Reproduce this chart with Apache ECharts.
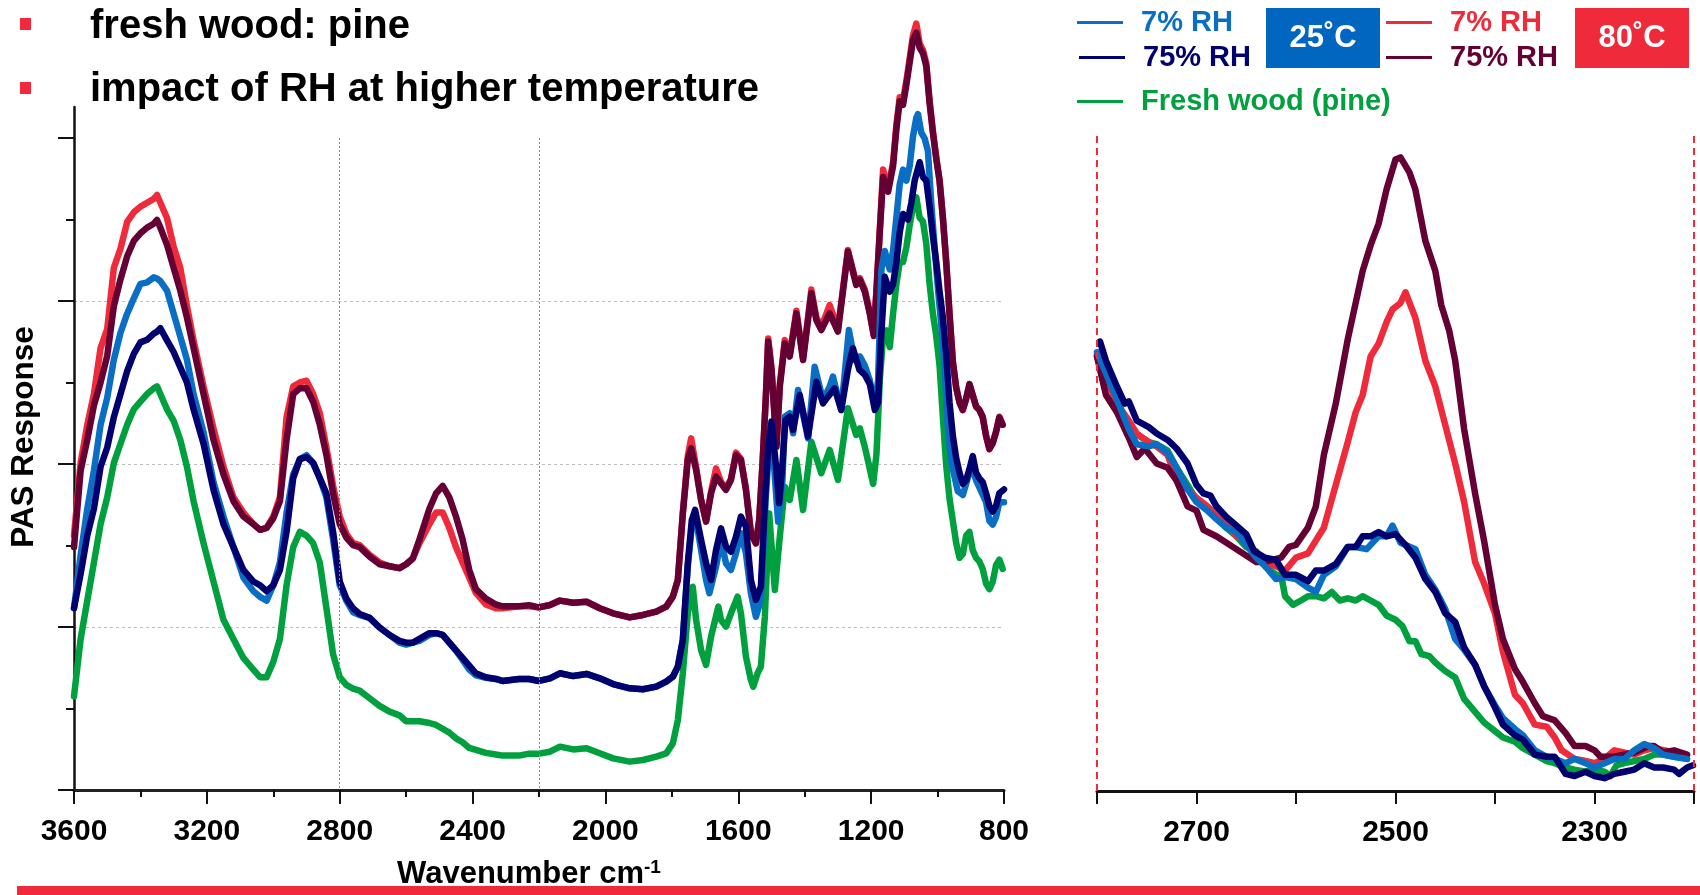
<!DOCTYPE html>
<html>
<head>
<meta charset="utf-8">
<script src="https://cdn.jsdelivr.net/npm/echarts@6/dist/echarts.min.js"></script>
<style>
  html, body { margin: 0; padding: 0; background: #fff; }
  #chart { width: 1700px; height: 895px; }
</style>
</head>
<body>
<div id="chart"></div>
<script>
const FONT = '"Liberation Sans", Arial, sans-serif'
const RED = '#ee2a3b'
const MAROON = '#650034'
const BLUE = '#0a6fc4'
const NAVY = '#00006e'
const GREEN = '#00a03e'

const N_COOL_DRY = '7% RH (25˚C)'
const N_COOL_HUMID = '75% RH (25˚C)'
const N_WARM_DRY = '7% RH (80˚C)'
const N_WARM_HUMID = '75% RH (80˚C)'
const N_FRESH = 'Fresh wood (pine)'

// left panel, 3600 - 2200 cm-1 (shared wavenumbers)
const waveHigh = [3600,3580,3560,3540,3520,3500,3480,3460,3440,3420,3400,3380,3360,3350,3340,3320,3300,3280,3260,3240,3210,3180,3150,3120,3090,3060,3040,3020,3000,2980,2960,2940,2920,2900,2880,2860,2840,2820,2800,2780,2760,2740,2710,2680,2650,2620,2600,2580,2560,2530,2510,2490,2470,2450,2430,2410,2390,2360,2330,2310,2260,2230,2200]
const highWarmDry = [156.1,200.7,224.1,242.9,271.1,282.8,320.4,332.1,348.5,354.4,357.9,360.3,362.6,365.0,360.3,350.9,333.3,320.4,296.9,275.8,247.6,221.8,198.3,179.5,170.2,163.1,159.6,160.8,167.8,179.5,228.8,247.6,250.0,251.1,242.9,231.2,210.1,186.6,167.8,157.2,151.4,150.2,144.3,139.6,137.3,136.1,138.5,142.0,151.4,163.1,170.2,170.2,160.8,149.0,139.6,130.3,120.9,113.8,111.5,111.5,112.7,112.7,112.0]
const highWarmHumid = [149.0,196.0,214.8,235.9,250.0,266.4,296.9,313.3,327.4,336.8,341.5,345.0,347.4,349.7,345.0,334.4,320.4,306.3,289.9,271.1,242.9,214.8,193.6,177.2,167.8,163.1,159.6,160.8,166.6,177.2,214.8,242.9,246.4,246.4,238.2,224.1,205.4,181.9,163.1,154.9,150.2,149.0,143.2,138.5,137.3,136.1,138.5,142.0,153.7,172.5,181.9,186.6,179.5,167.8,153.7,135.0,123.2,117.4,113.8,112.7,112.7,113.4,112.0]
const highCoolDry = [111.5,144.3,172.5,196.0,224.1,240.6,264.0,280.5,292.2,301.6,310.5,311.4,314.5,313.8,312.2,306.3,292.2,278.1,264.0,242.9,219.4,188.9,167.8,149.0,130.3,122.0,118.5,116.2,125.6,139.6,170.2,193.6,203.0,205.4,200.7,191.3,179.5,153.7,125.6,116.2,109.1,107.3,105.6,99.7,95.1,90.4,89.2,90.4,91.5,95.1,96.2,95.1,90.4,85.7,79.8,73.9,70.4,68.8,68.1,66.9,68.1,68.1,66.9]
const highCoolHumid = [111.5,132.6,156.1,172.5,198.3,210.1,228.8,242.9,257.0,267.6,274.6,276.2,280.0,281.2,283.3,275.8,268.7,259.3,250.0,233.5,212.4,184.2,163.1,149.0,135.0,127.9,125.6,122.0,125.6,135.0,158.4,191.3,203.0,204.2,200.7,191.3,181.9,158.4,127.9,117.4,111.5,108.0,105.6,99.7,95.1,91.5,90.4,90.4,92.7,96.2,96.2,95.1,90.4,85.7,81.0,76.3,71.6,69.2,68.1,66.9,68.1,68.1,66.9]
const highFresh = [57.5,92.7,116.2,139.6,163.1,179.5,200.7,212.4,224.1,233.5,238.2,242.9,246.4,247.6,242.9,233.5,226.5,214.8,198.3,177.2,151.4,127.9,104.4,92.7,81.0,73.9,69.2,69.2,78.6,92.7,125.6,149.0,158.4,156.1,151.4,139.6,111.5,83.3,69.2,64.5,62.2,61.0,56.3,51.6,48.1,45.8,42.2,42.2,42.2,41.1,39.9,37.6,35.2,31.7,29.3,25.8,24.6,22.8,21.8,21.1,21.1,22.3,22.3]

// left panel, 2200 - 800 cm-1 ([wavenumber, response])
const lowWarmDry = [[2167,113.5],[2137,116.2],[2097,114.9],[2057,115.5],[2017,111.5],[1977,108.4],[1927,105.9],[1887,107.4],[1847,109.4],[1817,112.5],[1797,118.6],[1782,128.8],[1767,169.7],[1752,205],[1742,215.7],[1727,198],[1712,178],[1697,165],[1682,183],[1667,197.3],[1652,189],[1637,185],[1622,191],[1607,207],[1592,203],[1577,185],[1562,158],[1547,151.3],[1537,165.6],[1527,200.4],[1517,241.3],[1510,277],[1500,259],[1485,212],[1475,249],[1460,276],[1445,267],[1425,294],[1405,265],[1380,307],[1365,290],[1350,284],[1325,297.5],[1300,283],[1270,331.3],[1245,311],[1234,314],[1219,307],[1204,293],[1192,279],[1184,307],[1174,344],[1164,380.6],[1149,369],[1134,385],[1124,408],[1114,425],[1104,423],[1094,435],[1084,449],[1074,463],[1064,470.2],[1054,458],[1044,454],[1034,446],[1024,423],[1014,404],[1004,388],[994,374],[984,351],[974,324],[964,292],[954,263],[944,247],[934,238],[924,233],[914,240],[904,249],[894,242],[884,235],[874,233],[864,229],[854,217],[844,209],[834,213],[824,220],[814,229],[804,224]]
const lowWarmHumid = [[2167,113.5],[2137,116.2],[2097,114.9],[2057,115.5],[2017,111.5],[1977,108.4],[1927,105.9],[1887,107.4],[1847,109.4],[1817,112.5],[1797,118.6],[1782,128.8],[1767,169.7],[1752,202.5],[1742,209.6],[1727,196.3],[1712,177.9],[1697,164.6],[1682,182],[1667,192.2],[1652,188.1],[1637,184.1],[1622,190.2],[1607,205.5],[1592,202.5],[1577,184.1],[1562,157.5],[1547,151.3],[1537,165.6],[1527,200.4],[1517,241.3],[1510,275.1],[1500,257.7],[1485,210.6],[1475,247.4],[1460,274],[1445,265.9],[1425,292.4],[1405,263.8],[1380,304.7],[1365,288.3],[1350,282.2],[1325,292.4],[1300,281.2],[1270,330.3],[1245,309.8],[1234,313],[1219,305.7],[1204,292.1],[1192,278.5],[1184,305.7],[1174,342],[1164,376],[1149,367],[1134,382.8],[1124,405.5],[1114,422.5],[1104,420.3],[1094,432.7],[1084,446.3],[1074,460],[1064,464.5],[1054,455.4],[1044,452],[1034,444.1],[1024,421.4],[1014,403.2],[1004,387.4],[994,373.8],[984,351.1],[974,323.9],[964,292.1],[954,262.6],[944,246.8],[934,237.7],[924,233.2],[914,240],[904,249],[894,242.2],[884,235.4],[874,233.2],[864,228.6],[854,217.3],[844,209.3],[834,212.7],[824,219.5],[814,228.6],[804,224.1]]
const lowCoolDry = [[2167,68.5],[2137,71.6],[2097,69.9],[2057,71.2],[2017,68.5],[1977,65],[1927,62.4],[1887,61.8],[1847,63.4],[1817,66.5],[1797,69.5],[1782,75.7],[1767,92],[1752,137],[1740,161.6],[1727,165.6],[1712,147.2],[1697,128.8],[1687,120.7],[1667,137],[1652,153.4],[1637,139.1],[1622,135],[1607,145.2],[1592,157.5],[1577,145.2],[1562,120.7],[1547,106.3],[1532,116.6],[1517,180],[1507,210.6],[1500,220.9],[1487,184.1],[1480,164.6],[1467,190],[1460,229],[1445,231.1],[1435,218.8],[1420,245.4],[1390,215.7],[1370,259.7],[1345,239.3],[1325,247.4],[1315,253.6],[1290,233.1],[1267,282.2],[1250,263.8],[1234,266],[1219,260.4],[1204,251.3],[1189,235.4],[1179,251.3],[1169,319.3],[1159,330.7],[1144,319.3],[1134,330.7],[1124,351.1],[1114,371.5],[1104,380.6],[1094,373.8],[1084,382.8],[1074,401],[1064,412.3],[1059,414.6],[1049,403.2],[1039,399.8],[1029,391.9],[1019,360.2],[1009,332.9],[999,308],[989,285.3],[979,260.4],[969,221.8],[959,201.4],[949,192.3],[939,183.3],[924,181],[914,187.8],[899,199.1],[884,190],[869,183.3],[854,176.5],[844,165.1],[834,162.8],[824,167.4],[814,176.5],[800,176.5]]
const lowCoolHumid = [[2167,68.5],[2137,71.6],[2097,69.9],[2057,71.2],[2017,68.5],[1977,65],[1927,62.4],[1887,61.8],[1847,63.4],[1817,66.5],[1797,69.5],[1782,75.7],[1767,92],[1752,139.1],[1740,165.6],[1730,171.8],[1712,153.4],[1697,139.1],[1682,128.8],[1667,147.2],[1652,160.5],[1637,149.3],[1622,146.2],[1607,155.4],[1592,167.7],[1577,161.6],[1562,128.8],[1547,116.6],[1532,124.7],[1520,176],[1510,210],[1500,226],[1487,200],[1477,176],[1467,200],[1458,227],[1445,229],[1435,220.9],[1415,242.3],[1390,216.8],[1365,250.5],[1345,237.2],[1330,241.3],[1310,246.4],[1290,233.1],[1270,257.7],[1255,271],[1235,257.7],[1219,254.7],[1204,249],[1189,233.2],[1179,237.7],[1169,280.8],[1159,314.8],[1144,305.7],[1134,310.3],[1124,323.9],[1114,342],[1104,353.4],[1089,350],[1079,360.2],[1069,373.8],[1054,385.1],[1044,376],[1034,373.8],[1024,357.9],[1014,339.7],[1004,323.9],[994,305.7],[984,289.9],[974,267.2],[964,237.7],[954,217.3],[944,203.7],[934,194.6],[924,187.8],[914,190],[904,196.9],[894,204.8],[884,194.6],[874,191.2],[864,188.9],[854,182.1],[844,174.2],[834,170.8],[824,174.2],[814,182.1],[800,184.4]]
const lowFresh = [[2167,23.5],[2137,26.6],[2097,24.9],[2057,25.6],[2017,22.5],[1977,19.4],[1927,17.4],[1887,18.4],[1847,20.5],[1817,22.5],[1797,28.6],[1782,42.9],[1767,71.6],[1752,108.4],[1737,124.7],[1727,104.3],[1712,85.9],[1697,76.7],[1682,94.1],[1660,112.5],[1652,104.3],[1637,100.2],[1622,108.4],[1602,118.6],[1592,108.4],[1577,81.8],[1562,67.5],[1555,63.4],[1542,71.6],[1532,75.7],[1520,106.3],[1507,169.7],[1490,122.7],[1475,155.4],[1460,186.1],[1445,177.9],[1425,202.5],[1405,171.8],[1380,213.7],[1350,194.3],[1325,208.6],[1300,190.2],[1270,234.2],[1245,217.8],[1234,221.8],[1219,210.5],[1204,196.9],[1194,187.8],[1184,205.9],[1174,251.3],[1164,278.5],[1154,282],[1144,271.7],[1134,292.1],[1124,310.3],[1114,323.9],[1104,323.9],[1094,332.9],[1084,346.5],[1074,357.9],[1064,363.6],[1054,351.1],[1044,348.8],[1034,335.2],[1024,310.3],[1014,292.1],[1004,278.5],[994,260.4],[984,228.6],[974,199.1],[964,178.7],[954,165.1],[944,151.5],[934,142.4],[924,144.7],[914,156],[904,158.3],[894,147],[884,142.4],[874,140.2],[864,135.6],[854,126.6],[844,123.2],[834,127.7],[824,137.9],[814,141.3],[804,135.6]]

// right panel, zoom on 2800 - 2200 cm-1
const zoomWarmHumid = [[2800,101.5],[2791,92.5],[2780,88.5],[2768,82.5],[2760,78],[2752,80],[2740,76.5],[2729,75.5],[2720,72.5],[2709,66.5],[2700,65.5],[2693,61],[2680,59.5],[2660,56.5],[2640,53.5],[2631,53.5],[2615,54.5],[2607,57],[2600,57.5],[2588,61.5],[2580,66.5],[2572,78.5],[2560,90.5],[2548,105.5],[2533,121.5],[2525,127.5],[2517,132.5],[2509,140.5],[2500,147.5],[2495,148],[2486,144.5],[2480,140.5],[2470,128.5],[2460,121.5],[2454,113.5],[2446,107.5],[2440,100.5],[2431,84.5],[2420,69.5],[2411,58.5],[2400,43.5],[2392,35.5],[2380,28.5],[2372,25.5],[2360,20.5],[2352,17.5],[2340,16.5],[2329,13.5],[2320,10.5],[2309,10.5],[2300,9.5],[2294,8],[2280,8],[2260,9],[2246,10.5],[2240,10.5],[2231,9],[2220,9.5],[2207,8.5]]
const zoomWarmDry = [[2800,101.5],[2780,90.5],[2768,86.5],[2760,83.5],[2748,81.5],[2740,80.5],[2729,78.5],[2720,72.5],[2709,70.5],[2700,68.5],[2689,66.5],[2680,64.5],[2670,62.5],[2660,59.5],[2650,58.5],[2640,55.5],[2631,53.5],[2620,52.5],[2611,51.5],[2600,54.5],[2588,55.5],[2580,58.5],[2572,61.5],[2560,71.5],[2548,81.5],[2540,88.5],[2533,92.5],[2525,101.5],[2517,104.5],[2509,109.5],[2503,112.5],[2495,114],[2490,116.5],[2480,110.5],[2470,100.5],[2460,94.5],[2450,85.5],[2440,76.5],[2431,67.5],[2420,53.5],[2411,48.5],[2400,41.5],[2392,32.5],[2380,22.5],[2372,20.5],[2360,15.5],[2348,15],[2340,12.5],[2333,9.5],[2320,7.5],[2309,7],[2300,6.5],[2290,7.5],[2280,9.5],[2260,8.5],[2250,9.5],[2240,10],[2220,9],[2207,8.3]]
const zoomCoolHumid = [[2797,105],[2791,100.5],[2780,94.5],[2772,90.5],[2768,91],[2760,86.5],[2748,85],[2740,83.5],[2729,82],[2720,80],[2709,76.5],[2700,71.5],[2693,69.5],[2686,69],[2680,66.5],[2670,64],[2660,62],[2650,60],[2642,56],[2631,54.5],[2620,54],[2611,50.5],[2600,50.5],[2588,49],[2580,51.5],[2572,51.5],[2560,53],[2548,57],[2540,57],[2533,59.5],[2525,59.5],[2517,60.5],[2509,59.5],[2500,60],[2490,57.5],[2480,54.5],[2470,49.5],[2460,46.5],[2450,41.5],[2440,39.5],[2431,33.5],[2420,29.5],[2411,24.5],[2400,19.5],[2392,15.5],[2380,13],[2372,12],[2360,8.5],[2348,8],[2340,8],[2329,4],[2320,3.5],[2309,4.5],[2300,3.5],[2290,3],[2280,4],[2270,4.5],[2260,5],[2250,6.5],[2240,5.5],[2231,5.5],[2220,5],[2215,4],[2207,5.5],[2201,6]]
const zoomCoolDry = [[2800,102.5],[2780,91.5],[2768,84.5],[2760,81],[2748,80.5],[2740,81],[2729,79],[2720,75.5],[2709,70.5],[2700,67.5],[2689,65.5],[2680,63.5],[2670,61.5],[2660,60.5],[2650,57.5],[2640,54.5],[2631,52.5],[2620,49.5],[2611,50],[2600,49.5],[2588,47.5],[2580,46.5],[2572,50.5],[2560,52.5],[2548,57],[2540,57],[2529,56.5],[2517,59.5],[2509,59.5],[2503,62],[2495,58],[2480,56.5],[2470,50.5],[2460,47],[2450,42.5],[2440,35.5],[2431,33],[2420,29.5],[2411,24.5],[2400,20],[2392,17],[2380,14.5],[2372,13],[2360,9.5],[2348,8],[2340,7.5],[2329,6.5],[2320,7.5],[2309,6.5],[2300,5.5],[2290,6.5],[2280,7.5],[2270,7.5],[2260,9.5],[2250,11],[2240,10],[2231,8.5],[2220,8],[2207,7.5]]
const zoomFresh = [[2800,102],[2780,91.5],[2768,84.5],[2748,81.5],[2740,81],[2729,79.5],[2720,75.5],[2709,71.5],[2700,68],[2689,66],[2680,64.5],[2670,61.5],[2660,59.5],[2650,57],[2640,56],[2631,52.5],[2620,50.5],[2615,50.5],[2611,45.5],[2603,43.5],[2595,44.5],[2588,45.5],[2580,45.5],[2572,45],[2564,46.5],[2556,44.5],[2548,45],[2540,44.5],[2533,45.5],[2525,44.5],[2517,43.5],[2509,41],[2500,40],[2493,38.5],[2486,35],[2480,35],[2474,32],[2466,31.5],[2460,30],[2450,28],[2440,26.5],[2431,21.5],[2420,18.5],[2411,16],[2400,14],[2392,12.5],[2380,11.5],[2372,10],[2360,8.5],[2348,7],[2340,6.5],[2329,5.5],[2320,5],[2309,4.5],[2300,5],[2290,4.5],[2284,3.5],[2278,6],[2270,6.5],[2260,7],[2250,7.5],[2240,8.5],[2231,8.5],[2220,8],[2207,7.5]]

const leftMajorTicks = [0, 100, 200, 300, 400]
const rightTickLabels = [2700, 2500, 2300]
const zoomEdges = [2800, 2200]

const zip = (xs, ys) => xs.map((x, i) => [x, ys[i]])

const line = (name, color, data, idx, markLine) => ({
  type: 'line',
  name,
  data,
  xAxisIndex: idx,
  yAxisIndex: idx,
  symbol: 'none',
  showSymbol: false,
  clip: false,
  lineStyle: {color, width: 6.5, join: 'round', cap: 'round'},
  itemStyle: {color},
  emphasis: {disabled: true},
  markLine
})

const leftGuides = {
  silent: true,
  symbol: 'none',
  label: {show: false},
  lineStyle: {color: '#ee5a66', type: [2, 2], width: 1},
  data: zoomEdges.map(w => [{coord: [w, 400]}, {coord: [w, 0]}])
}
const rightGuides = {
  silent: true,
  symbol: 'none',
  label: {show: false},
  lineStyle: {color: RED, type: [7, 5], width: 2},
  data: zoomEdges.map(w => [{coord: [w, 153]}, {coord: [w, 0]}])
}

const tickLine = {color: '#111', width: 2}
const boldLabel = {color: '#000', fontFamily: FONT, fontWeight: 'bold', fontSize: 30}

const legendItem = (name, label, color, left, top) => ({
  data: [name],
  formatter: label,
  left, top,
  padding: 0,
  icon: 'rect',
  itemWidth: 46,
  itemHeight: 3,
  selectedMode: false,
  textStyle: {color, fontFamily: FONT, fontWeight: 'bold', fontSize: 29, padding: [0, 0, 0, 13]}
})

const boxText = (x, label) => ({
  type: 'text', x, y: 38,
  style: {text: label, fill: '#fff', font: `bold 31px ${FONT}`, align: 'center', verticalAlign: 'middle', textAlign: 'center', textVerticalAlign: 'middle'}
})

const option = {
  animation: false,
  backgroundColor: '#fff',
  grid: [
    {left: 74, right: 696, top: 107, bottom: 105, outerBoundsMode: 'none'},
    {left: 1097, right: 6, top: 136, bottom: 104, outerBoundsMode: 'none'}
  ],
  xAxis: [
    {
      type: 'value', gridIndex: 0, min: 800, max: 3600, interval: 400, inverse: true,
      axisLine: {lineStyle: {color: '#222', width: 3}},
      axisTick: {show: true, length: 14, lineStyle: tickLine},
      minorTick: {show: true, splitNumber: 2, length: 7, lineStyle: tickLine},
      axisLabel: {...boldLabel, margin: 27, formatter: v => String(v)},
      splitLine: {show: false}
    },
    {
      type: 'value', gridIndex: 1, min: 2200, max: 2800, interval: 100, inverse: true,
      axisLine: {lineStyle: {color: '#111', width: 3}},
      axisTick: {show: true, length: 13, lineStyle: tickLine},
      axisLabel: {...boldLabel, margin: 27, formatter: v => rightTickLabels.includes(v) ? String(v) : ''},
      splitLine: {show: false}
    }
  ],
  yAxis: [
    {
      type: 'value', gridIndex: 0, min: 0, max: 419, interval: 100,
      axisLine: {show: true, lineStyle: {color: '#111', width: 2.5}},
      axisTick: {show: true, length: 16, customValues: leftMajorTicks, lineStyle: tickLine},
      minorTick: {show: true, splitNumber: 2, length: 8, lineStyle: tickLine},
      axisLabel: {show: false},
      splitLine: {show: true, showMinLine: false, showMaxLine: false, lineStyle: {color: '#bdbdbd', type: [3, 3], width: 1}}
    },
    {type: 'value', gridIndex: 1, min: 0, max: 153, show: false}
  ],
  legend: [
    legendItem(N_COOL_DRY, '7% RH', BLUE, 1077, 8),
    legendItem(N_COOL_HUMID, '75% RH', NAVY, 1079, 43),
    legendItem(N_FRESH, 'Fresh wood (pine)', GREEN, 1077, 87),
    legendItem(N_WARM_DRY, '7% RH', RED, 1386, 8),
    legendItem(N_WARM_HUMID, '75% RH', MAROON, 1386, 43)
  ],
  series: [
    line(N_FRESH, GREEN, zip(waveHigh, highFresh).concat(lowFresh), 0, leftGuides),
    line(N_WARM_DRY, RED, zip(waveHigh, highWarmDry).concat(lowWarmDry), 0),
    line(N_WARM_HUMID, MAROON, zip(waveHigh, highWarmHumid).concat(lowWarmHumid), 0),
    line(N_COOL_DRY, BLUE, zip(waveHigh, highCoolDry).concat(lowCoolDry), 0),
    line(N_COOL_HUMID, NAVY, zip(waveHigh, highCoolHumid).concat(lowCoolHumid), 0),
    line(N_FRESH, GREEN, zoomFresh, 1, rightGuides),
    line(N_WARM_DRY, RED, zoomWarmDry, 1),
    line(N_WARM_HUMID, MAROON, zoomWarmHumid, 1),
    line(N_COOL_DRY, BLUE, zoomCoolDry, 1),
    line(N_COOL_HUMID, NAVY, zoomCoolHumid, 1)
  ],
  graphic: [
    {type: 'rect', shape: {x: 20, y: 18, width: 11, height: 12}, style: {fill: RED}},
    {type: 'rect', shape: {x: 20, y: 82, width: 11, height: 12}, style: {fill: RED}},
    {type: 'text', x: 90, y: 27, style: {text: 'fresh wood: pine', fill: '#000', font: `bold 40px ${FONT}`, align: 'left', verticalAlign: 'middle', textAlign: 'left', textVerticalAlign: 'middle'}},
    {type: 'text', x: 90, y: 90, style: {text: 'impact of RH at higher temperature', fill: '#000', font: `bold 40px ${FONT}`, align: 'left', verticalAlign: 'middle', textAlign: 'left', textVerticalAlign: 'middle'}},
    {type: 'text', x: 24, y: 437, rotation: Math.PI / 2, style: {text: 'PAS Response', fill: '#000', font: `bold 31.5px ${FONT}`, align: 'center', verticalAlign: 'middle', textAlign: 'center', textVerticalAlign: 'middle'}},
    {
      type: 'text', x: 529, y: 874,
      style: {
        text: '{a|Wavenumber cm}{s|-1}',
        fill: '#000', align: 'center', verticalAlign: 'middle', textAlign: 'center', textVerticalAlign: 'middle',
        rich: {
          a: {fontFamily: FONT, fontWeight: 'bold', fontSize: 31, fill: '#000'},
          s: {fontFamily: FONT, fontWeight: 'bold', fontSize: 19, fill: '#000', verticalAlign: 'top'}
        }
      }
    },
    {type: 'rect', shape: {x: 1266, y: 8, width: 114, height: 60}, style: {fill: '#0066c0'}},
    boxText(1323, '25˚C'),
    {type: 'rect', shape: {x: 1575, y: 8, width: 114, height: 60}, style: {fill: RED}},
    boxText(1632, '80˚C'),
    {type: 'rect', shape: {x: 17, y: 886, width: 1683, height: 9}, style: {fill: RED}}
  ]
}

const chart = echarts.init(document.getElementById('chart'))
chart.setOption(option)
</script>
</body>
</html>
